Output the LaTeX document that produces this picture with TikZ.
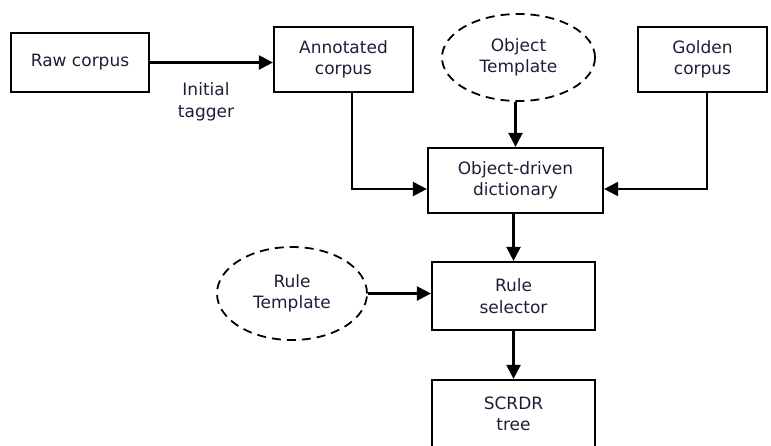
\documentclass[tikz,border=0pt]{standalone}
\usepackage{fontspec}
\setmainfont{DejaVu Sans}
\usetikzlibrary{arrows.meta,shapes.geometric}

\definecolor{labelink}{RGB}{30,30,55}
\tikzset{
  procbox/.style={draw,line width=2.2pt,align=center,inner sep=0pt,text=labelink,font=\fontsize{17}{21.5}\selectfont},
  tmpl/.style={ellipse,draw,line width=1.8pt,dash pattern=on 9pt off 6pt,align=center,inner sep=0pt,text=labelink,font=\fontsize{17}{21.5}\selectfont},
  flow/.style={line width=2.2pt,-{Triangle[length=14pt,width=14pt]}}
}

\begin{document}
\begin{tikzpicture}[x=1pt,y=-1pt]
    \useasboundingbox (0,0) rectangle (771,445);
    % boxes
    \node[procbox,minimum width=138pt,minimum height=59pt] (raw) at (80,62.5) {Raw corpus};
    \node[procbox,minimum width=139pt,minimum height=65pt] (ann) at (343.5,59.5) {Annotated\\corpus};
    \node[tmpl,minimum width=153pt,minimum height=87pt] (objtmpl) at (518.5,57.5) {Object\\Template};
    \node[procbox,minimum width=129pt,minimum height=65pt] (gold) at (702.5,59.5) {Golden\\corpus};
    \node[procbox,minimum width=175pt,minimum height=65pt] (dict) at (515.5,180.5) {Object-driven\\dictionary};
    \node[procbox,minimum width=163pt,minimum height=68pt] (rulesel) at (513.5,296) {Rule\\selector};
    \node[tmpl,minimum width=150pt,minimum height=93pt] (ruletmpl) at (292,293.5) {Rule\\Template};
    \node[procbox,minimum width=163pt,minimum height=68pt] (scrdr) at (513.5,414) {SCRDR\\tree};
    \node[align=center,text=labelink,font=\fontsize{17}{21.5}\selectfont] (tagger) at (206,102) {Initial\\tagger};
    % arrows
    \draw[flow] (raw.east) -- (raw.east -| ann.west);
    \draw[flow] ([xshift=8.5pt]ann.south) |- ([yshift=-8.5pt]dict.west);
    \draw[flow] ([xshift=4.5pt]gold.south) |- ([yshift=-8.5pt]dict.east);
    \draw[flow] (objtmpl.south -| dict.north) -- (dict.north);
    \draw[flow] (dict.south -| rulesel.north) -- (rulesel.north);
    \draw[flow] (ruletmpl.east) -- (ruletmpl.east -| rulesel.west);
    \draw[flow] (rulesel.south) -- (scrdr.north);
\end{tikzpicture}
\end{document}
